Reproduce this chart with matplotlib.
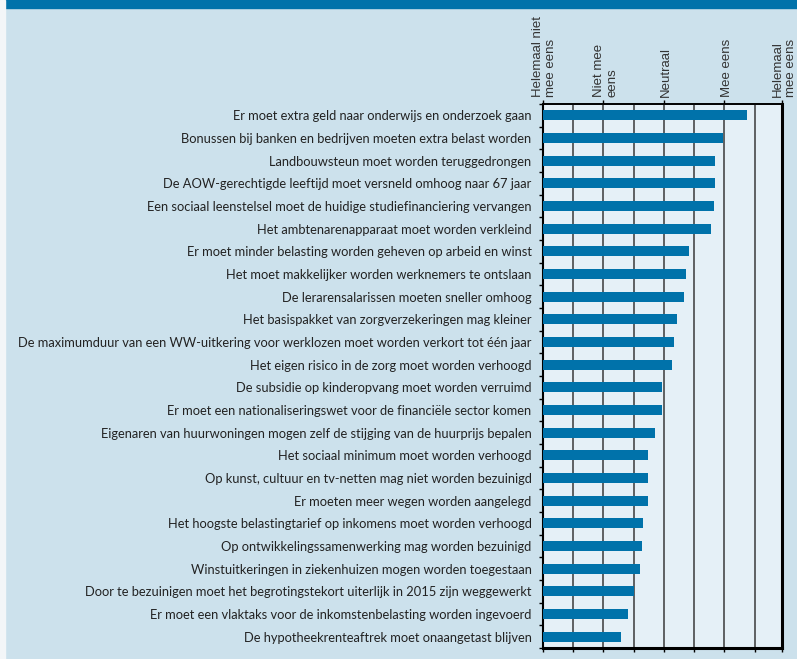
import matplotlib.pyplot as plt
from matplotlib.patches import Rectangle
from matplotlib.transforms import blended_transform_factory

statements = [
    "Er moet extra geld naar onderwijs en onderzoek gaan",
    "Bonussen bij banken en bedrijven moeten extra belast worden",
    "Landbouwsteun moet worden teruggedrongen",
    "De AOW-gerechtigde leeftijd moet versneld omhoog naar 67 jaar",
    "Een sociaal leenstelsel moet de huidige studiefinanciering vervangen",
    "Het ambtenarenapparaat moet worden verkleind",
    "Er moet minder belasting worden geheven op arbeid en winst",
    "Het moet makkelijker worden werknemers te ontslaan",
    "De lerarensalarissen moeten sneller omhoog",
    "Het basispakket van zorgverzekeringen mag kleiner",
    "De maximumduur van een WW-uitkering voor werklozen moet worden verkort tot één jaar",
    "Het eigen risico in de zorg moet worden verhoogd",
    "De subsidie op kinderopvang moet worden verruimd",
    "Er moet een nationaliseringswet voor de financiële sector komen",
    "Eigenaren van huurwoningen mogen zelf de stijging van de huurprijs bepalen",
    "Het sociaal minimum moet worden verhoogd",
    "Op kunst, cultuur en tv-netten mag niet worden bezuinigd",
    "Er moeten meer wegen worden aangelegd",
    "Het hoogste belastingtarief op inkomens moet worden verhoogd",
    "Op ontwikkelingssamenwerking mag worden bezuinigd",
    "Winstuitkeringen in ziekenhuizen mogen worden toegestaan",
    "Door te bezuinigen moet het begrotingstekort uiterlijk in 2015 zijn weggewerkt",
    "Er moet een vlaktaks voor de inkomstenbelasting worden ingevoerd",
    "De hypotheekrenteaftrek moet onaangetast blijven",
]
scores = [4.38, 3.98, 3.85, 3.85, 3.82, 3.77, 3.42, 3.37, 3.34, 3.22, 3.17, 3.14,
          2.97, 2.97, 2.86, 2.74, 2.74, 2.74, 2.66, 2.64, 2.61, 2.50, 2.41, 2.30]

scale_pos = [1, 2, 3, 4, 4.95]
scale_labels = ["Helemaal niet\nmee eens", "Niet mee\neens", "Neutraal",
                "Mee eens", "Helemaal\nmee eens"]

BG = "#cce1ec"
BLUE = "#0072aa"

fig = plt.figure(figsize=(7.97, 6.59), dpi=100, facecolor=BG)
W, H = 797, 659

# blauwe balk bovenaan en witte strook links
fig.patches.append(Rectangle((5 / W, 1 - 8 / H), 1, 8 / H, transform=fig.transFigure,
                             color=BLUE, zorder=0))
fig.patches.append(Rectangle((0, 0), 5 / W, 1, transform=fig.transFigure,
                             color="#f3f6f8", zorder=0))

ax = fig.add_axes([542.7 / W, 1 - 648 / H, (782 - 542.7) / W, (648 - 104) / H])
ax.set_facecolor("#e5f0f7")

y = list(range(len(statements)))
ax.barh(y, [s - 1 for s in scores], left=1, height=0.44, color=BLUE, zorder=3)

ax.set_xlim(1, 4.95)
ax.set_ylim(len(statements) - 0.5, -0.5)

# verticale rasterlijnen
for gx in [1.5, 2, 2.5, 3, 3.5, 4, 4.5]:
    ax.axvline(gx, color="#3a3a3a", lw=1.1, zorder=1)

ax.set_yticks(y)
ax.set_yticklabels(statements, fontsize=9.3, color="#222222",
                   family=["Lato", "DejaVu Sans"])
ax.tick_params(axis="y", which="major", length=0, pad=8)
ax.set_yticks([i + 0.5 for i in range(-1, len(statements))], minor=True)
ax.tick_params(axis="y", which="minor", length=3, direction="out", width=1)

ax.set_xticks([1, 1.5, 2, 2.5, 3, 3.5, 4, 4.5, 4.95])
ax.set_xticklabels([])
ax.tick_params(axis="x", which="major", length=3, direction="out", width=1,
               bottom=True, top=False)
secax = ax.secondary_xaxis("top")
secax.set_xticks(scale_pos)
secax.set_xticklabels([])
secax.tick_params(length=3, width=1, direction="out")
secax.spines["top"].set_linewidth(1.2)

for side, lw in [("top", 1.2), ("bottom", 2.2), ("right", 2.2), ("left", 1.5)]:
    ax.spines[side].set_linewidth(lw)
    ax.spines[side].set_color("black")

# schaallabels boven de grafiek
trans = blended_transform_factory(ax.transData, ax.transAxes)
for xp, lab in zip(scale_pos, scale_labels):
    ax.annotate(lab, xy=(xp, 1), xycoords=trans, xytext=(1.5, 5),
                textcoords="offset points", rotation=90, ha="center", va="bottom",
                multialignment="left", fontsize=9.5, color="#333333",
                family=["Liberation Sans", "DejaVu Sans"], linespacing=1.15)

fig.savefig("out.png", dpi=100, facecolor=BG)
